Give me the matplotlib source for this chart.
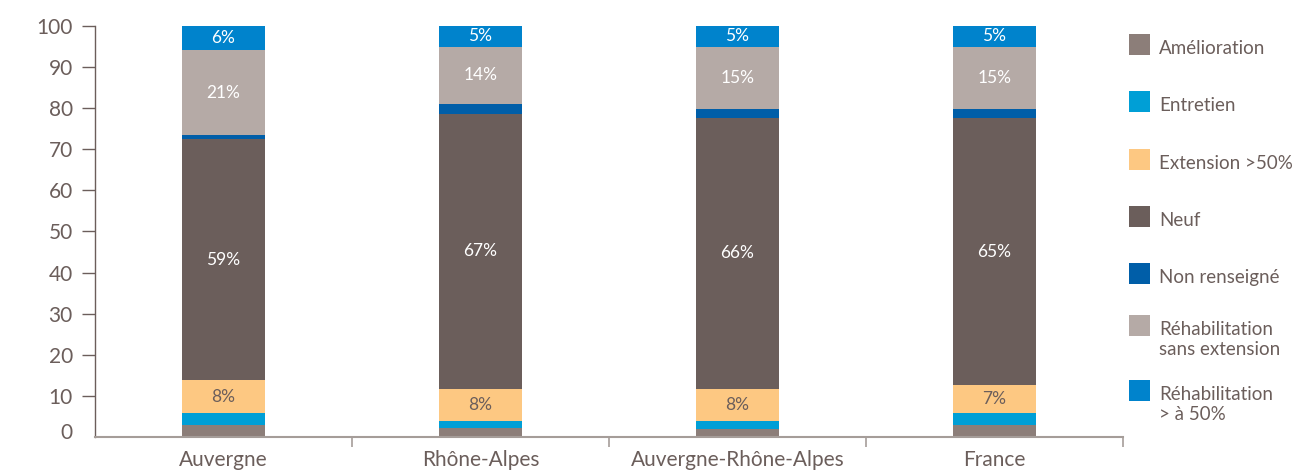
import matplotlib
matplotlib.use("Agg")
import matplotlib.pyplot as plt
from matplotlib.patches import Rectangle
from matplotlib.transforms import ScaledTranslation
import numpy as np

plt.rcParams['font.family'] = ['Lato', 'DejaVu Sans']

# Données (en %), de bas en haut de chaque barre
regions = ["Auvergne", "Rhône-Alpes", "Auvergne-Rhône-Alpes", "France"]
series_names = ["Amélioration", "Entretien", "Extension >50%", "Neuf",
                "Non renseigné", "Réhabilitation\nsans extension",
                "Réhabilitation\n> à 50%"]
amelioration = [2.9, 2.1, 2.0, 2.9]
entretien = [2.9, 1.9, 1.9, 2.9]
extension = [8.0, 7.8, 7.8, 6.8]
neuf = [58.7, 66.9, 65.9, 65.0]
non_renseigne = [1.0, 2.3, 2.3, 2.2]
rehab_sans_ext = [20.6, 14.0, 15.0, 15.1]
rehab_50 = [5.9, 5.0, 5.1, 5.1]
y_ticks = [0, 10, 20, 30, 40, 50, 60, 70, 80, 90, 100]

series = [amelioration, entretien, extension, neuf,
          non_renseigne, rehab_sans_ext, rehab_50]
colors = ["#8c7e79", "#009fd6", "#fdc882", "#6b5e5b",
          "#005ea8", "#b5aaa6", "#0083cc"]
# quelles séries portent une étiquette, et sa couleur
label_colors = [None, None, "#6b5e5b", "white", None, "white", "white"]

text_col = "#6b5e5b"

fig = plt.figure(figsize=(13.01, 4.70), dpi=100)
ax = fig.add_axes([95 / 1301, 1 - 437 / 470, (1123 - 95) / 1301, (437 - 26) / 470])

x = np.arange(len(regions))
bottom = np.zeros(len(regions))
for vals, col, lcol in zip(series, colors, label_colors):
    vals = np.array(vals)
    ax.bar(x, vals, bottom=bottom, width=0.323, color=col, linewidth=0)
    if lcol is not None:
        for xi, b, v in zip(x, bottom, vals):
            ax.text(xi, b + v / 2, f"{round(v):.0f}%", ha='center', va='center',
                    color=lcol, fontsize=12.5)
    bottom += vals

ax.set_xlim(-0.5, len(regions) - 0.5)
ax.set_ylim(0, 100)

ax.set_yticks(y_ticks)
ax.set_yticklabels([str(t) for t in y_ticks])
ax.tick_params(axis='y', length=9.5, width=1, color=text_col, pad=6.5,
               labelsize=15, labelcolor=text_col, direction='out')
# le "0" n'a pas de trait et se trouve un peu au-dessus de la base
zero = ax.yaxis.get_major_ticks()[0]
zero.tick1line.set_visible(False)
zero.label1.set_transform(zero.label1.get_transform()
                          + ScaledTranslation(0, 4 / 72, fig.dpi_scale_trans))

ax.set_xticks(x)
ax.set_xticklabels(regions)
ax.tick_params(axis='x', length=0, pad=9, labelsize=15, labelcolor=text_col)
ax.set_xticks(np.arange(len(regions)) + 0.5, minor=True)
ax.tick_params(axis='x', which='minor', length=7.5, width=1.2, color="#a59d99",
               direction='out')

for s in ['top', 'right']:
    ax.spines[s].set_visible(False)
ax.spines['left'].set_color(text_col)
ax.spines['left'].set_linewidth(1)
ax.spines['bottom'].set_color("#a59d99")
ax.spines['bottom'].set_linewidth(1.5)

# Légende à droite
legend_tops = [34, 91, 149, 206, 263, 315, 380]
for name, col, top in zip(series_names, colors, legend_tops):
    fig.patches.append(Rectangle((1129 / 1301, 1 - (top + 21) / 470), 21 / 1301, 21 / 470,
                                 transform=fig.transFigure, color=col, linewidth=0))
    for i, line in enumerate(name.split("\n")):
        fig.text(1159 / 1301, 1 - (top + 20 + i * 20) / 470, line, ha='left',
                 va='baseline', fontsize=13.5, color=text_col)

fig.savefig("out.png", dpi=100)
